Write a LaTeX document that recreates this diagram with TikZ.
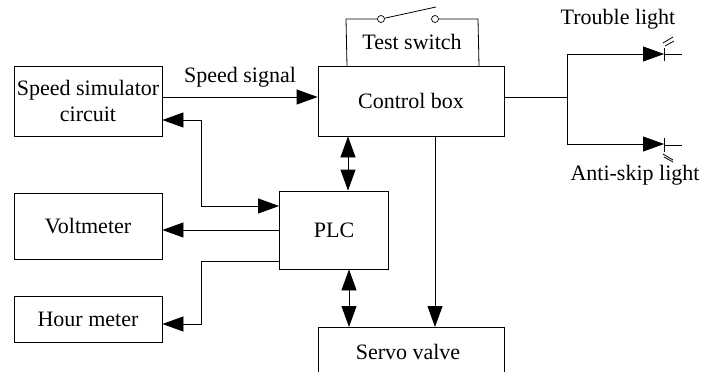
\documentclass[tikz,border=0pt]{standalone}
\usepackage{fontspec}
\setmainfont{Liberation Serif}
\usetikzlibrary{arrows,arrows.meta}
\usetikzlibrary{calc}
\tikzset{>={Triangle[length=21pt,width=15pt]}}
\tikzset{blockbox/.style={draw,line width=0.8pt,inner sep=0pt,align=center,font=\fontsize{22}{26}\selectfont}}
\tikzset{wire/.style={line width=0.8pt}}
\tikzset{plainlabel/.style={inner sep=0pt,font=\fontsize{22}{26}\selectfont}}
\tikzset{contact/.style={draw,circle,fill=white,line width=0.7pt,minimum size=7pt,inner sep=0pt}}

\begin{document}
\begin{tikzpicture}[x=1pt,y=-1pt]
  \useasboundingbox (0,0) rectangle (701,372);

  % BLOCKS
  \node[blockbox,minimum width=148pt,minimum height=70pt] (sim) at (88,101) {Speed simulator\\circuit};
  \node[blockbox,minimum width=148pt,minimum height=66pt] (volt) at (88,226) {Voltmeter};
  \node[blockbox,minimum width=148pt,minimum height=46pt] (hour) at (88,319) {Hour meter};
  \node[blockbox,minimum width=186pt,minimum height=70pt] (ctrl) at (411,101) {Control box};
  \node[blockbox,minimum width=109pt,minimum height=78pt] (plc) at (334,230) {PLC};
  \coordinate (servoNW) at (318,327);
  \coordinate (servoNE) at (504,327);
  \node[plainlabel] (servo) at (408,352) {Servo valve};
  \draw[wire] (318,372) -- (servoNW) -- (servoNE) -- (504,372);

  % LABELS
  \node[plainlabel] (speed) at (240,77) {Speed signal};
  \node[plainlabel] (test) at (412,42) {Test switch};
  \node[plainlabel] (trouble) at (618,19) {Trouble light};
  \node[plainlabel] (skip) at (635,175) {Anti-skip light};

  % SWITCH
  \node[contact] (c1) at (381,19) {};
  \node[contact] (c2) at (435,19) {};
  \coordinate (swtip) at (436,7);
  \draw[wire] (c1) -- (swtip);
  \draw[wire] (347,66) -- (346,19) -- (c1);
  \draw[wire] (c2) -- (478,19) -- (479,66);

  % CONNECTORS
  \draw[wire,->] (sim.east |- 0,97) -- (ctrl.west |- 0,97);
  \draw[wire,<->] (plc.west |- 0,206) -- (201,206) -- (201,120) -- (sim.east |- 0,120);
  \draw[wire,->] (plc.west |- 0,230) -- (volt.east |- 0,230);
  \draw[wire,->] (plc.west |- 0,261) -- (201,261) -- (201,324) -- (hour.east |- 0,324);
  \draw[wire,<->] (348,0 |- ctrl.south) -- (348,0 |- plc.north);
  \draw[wire,<->] (349,0 |- plc.south) -- (349,327);
  \draw[wire,->] (435,0 |- ctrl.south) -- (435,327);

  % LIGHTS
  \coordinate (join) at (567,97);
  \draw[wire] (ctrl.east |- join) -- (join);
  \draw[wire] (567,54) -- (567,144);
  \draw[wire,->] (567,54) -- (664,54);
  \draw[wire] (664,54) -- (682,54);
  \draw[wire] (664,48) -- (664,61);
  \draw[wire] (663,43) -- (673,37) (665,46) -- (674,41);
  \draw[wire,->] (567,144) -- (664,144);
  \draw[wire] (664,145) -- (682,145);
  \draw[wire] (664,138) -- (664,152);
  \draw[wire] (663,154) -- (673,160) (664,157) -- (673,162);
\end{tikzpicture}
\end{document}
